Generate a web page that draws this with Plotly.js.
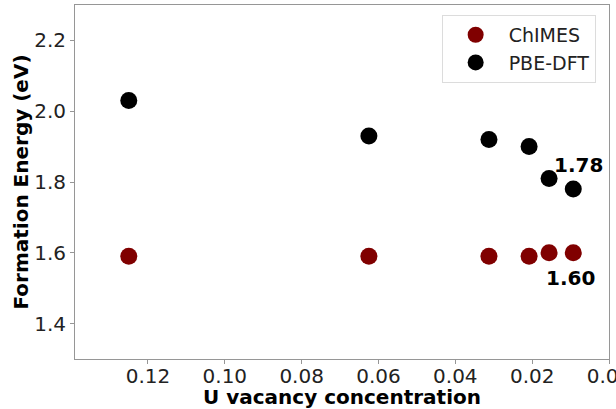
<!DOCTYPE html>
<html>
<head>
<meta charset="utf-8">
<script src="https://cdn.plot.ly/plotly-3.0.1.min.js"></script>
<style>
  html, body { margin: 0; padding: 0; background: #fff; }
  #chart { width: 616px; height: 409px; }
</style>
</head>
<body>
<div id="chart"></div>
<script>
// U vacancy concentration for each supercell
const concentration = [0.125, 0.0625, 0.03125, 0.0208, 0.0156, 0.0093];
// Formation energies (eV)
const chimesEnergy = [1.59, 1.59, 1.59, 1.59, 1.60, 1.60];
const dftEnergy = [2.03, 1.93, 1.92, 1.90, 1.81, 1.78];

const seriesNames = ['ChIMES', 'PBE-DFT'];
const xTicks = [0.12, 0.10, 0.08, 0.06, 0.04, 0.02, 0.00];
const yTicks = [1.4, 1.6, 1.8, 2.0, 2.2];

const FONT = 'DejaVu Sans, sans-serif';
const AXIS_GRAY = 'rgb(150,150,150)';

const traces = [
  {
    x: concentration, y: chimesEnergy, name: seriesNames[0],
    type: 'scatter', mode: 'markers',
    marker: { color: '#800000', size: 17 }
  },
  {
    x: concentration, y: dftEnergy, name: seriesNames[1],
    type: 'scatter', mode: 'markers',
    marker: { color: '#000000', size: 17 }
  }
];

// Label the smallest-concentration point of each series with its value
const last = concentration.length - 1;
const annotations = [
  {
    x: concentration[last], y: dftEnergy[last], xref: 'x', yref: 'y',
    text: '<b>' + dftEnergy[last].toFixed(2) + '</b>',
    showarrow: false, xshift: 5, yshift: 24,
    font: { family: FONT, size: 20, color: '#000' }
  },
  {
    x: concentration[last], y: chimesEnergy[last], xref: 'x', yref: 'y',
    text: '<b>' + chimesEnergy[last].toFixed(2) + '</b>',
    showarrow: false, xshift: -3, yshift: -25,
    font: { family: FONT, size: 20, color: '#000' }
  }
];

const layout = {
  width: 616, height: 409,
  margin: { l: 75, r: 7, t: 5, b: 50 },
  paper_bgcolor: '#fff', plot_bgcolor: '#fff',
  font: { family: FONT, size: 20, color: '#222' },
  showlegend: true,
  legend: {
    x: 0.975, y: 0.972, xanchor: 'right', yanchor: 'top',
    bgcolor: 'rgba(255,255,255,0.8)',
    bordercolor: 'rgb(220,220,220)', borderwidth: 1,
    font: { family: FONT, size: 19, color: '#222' },
    itemwidth: 56
  },
  xaxis: {
    range: [0.139, 0],
    tickvals: xTicks,
    ticktext: xTicks.map(v => v.toFixed(2)),
    ticklabeloverflow: 'allow',
    ticklabelstandoff: -5,
    showgrid: false, zeroline: false,
    showline: true, mirror: true, linecolor: AXIS_GRAY, linewidth: 1,
    ticks: 'outside', ticklen: 4, tickcolor: AXIS_GRAY,
    tickfont: { family: FONT, size: 20, color: '#222' },
    title: { text: '<b>U vacancy concentration</b>', font: { family: FONT, size: 20, color: '#000' }, standoff: 6 }
  },
  yaxis: {
    range: [1.3, 2.3],
    tickvals: yTicks,
    ticktext: yTicks.map(v => v.toFixed(1)),
    showgrid: false, zeroline: false,
    showline: true, mirror: true, linecolor: AXIS_GRAY, linewidth: 1,
    ticks: 'outside', ticklen: 4, tickcolor: AXIS_GRAY,
    tickfont: { family: FONT, size: 20, color: '#222' },
    title: { text: '<b>Formation Energy (eV)</b>', font: { family: FONT, size: 20, color: '#000' }, standoff: 0 }
  },
  annotations: annotations
};

Plotly.newPlot('chart', traces, layout, { staticPlot: true, displayModeBar: false });
</script>
</body>
</html>
